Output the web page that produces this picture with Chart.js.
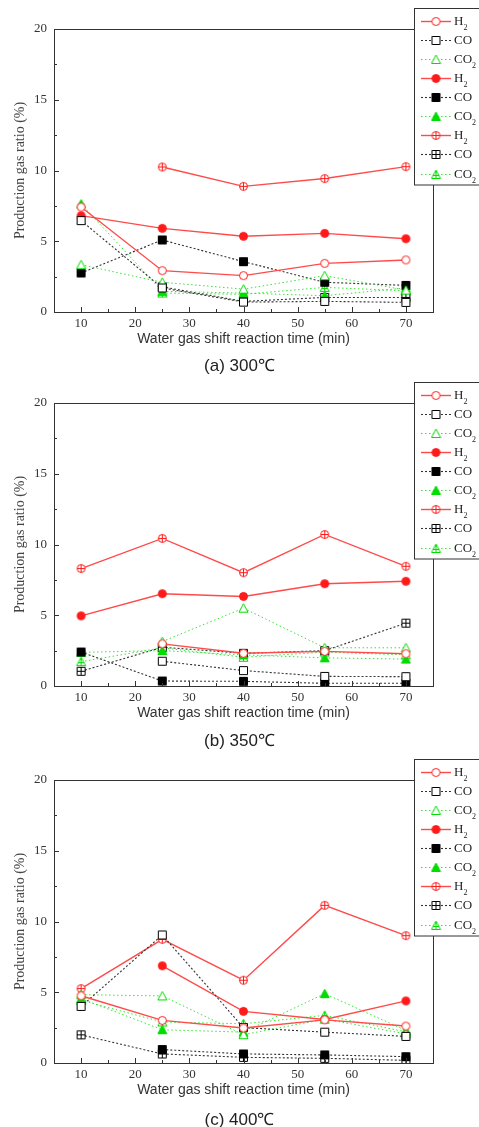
<!DOCTYPE html>
<html>
<head>
<meta charset="utf-8">
<script src="https://cdn.jsdelivr.net/npm/chart.js@4.4.1/dist/chart.umd.min.js"></script>
<style>
  body { margin: 0; background: #fff; width: 479px; height: 1127px; position: relative; overflow: hidden; }
  canvas { position: absolute; left: 0; }
  .cap { position: absolute; left: 0; width: 479px; height: 20px; line-height: 20px; text-align: center;
         font: 17px "Liberation Sans", Arial, sans-serif; color: #222; }
</style>
</head>
<body>
<canvas id="chart300" width="479" height="375" style="top:0px"></canvas>
<div class="cap" style="top:353px">(a) 300℃</div>
<canvas id="chart350" width="479" height="375" style="top:374px"></canvas>
<div class="cap" style="top:728px">(b) 350℃</div>
<canvas id="chart400" width="479" height="375" style="top:751px"></canvas>
<div class="cap" style="top:1107px">(c) 400℃</div>

<script>
// reaction time (min)
const times = [10, 25, 40, 55, 70];
const xTickLabels = [10, 20, 30, 40, 50, 60, 70];
const yTickLabels = [0, 5, 10, 15, 20];
const legendNames = ['H', 'CO', 'CO', 'H', 'CO', 'CO', 'H', 'CO', 'CO'];
const legendSubs  = ['2', '', '2', '2', '', '2', '2', '', '2'];

// (a) 300℃
const h2Open300    = [7.42, 2.92, 2.57, 3.44, 3.68];
const coOpen300    = [6.46, 1.70, 0.70, 0.75, 0.68];
const co2Open300   = [3.34, 2.10, 1.62, 2.57, 1.55];
const h2Fill300    = [6.81, 5.91, 5.35, 5.56, 5.18];
const coFill300    = [2.76, 5.09, 3.56, 2.10, 1.88];
const co2Fill300   = [7.64, 1.46, 1.34, 1.15, 1.70];
const h2Cross300   = [null, 10.25, 8.88, 9.43, 10.27];
const coCross300   = [null, 1.78, 0.75, 1.03, 1.03];
const co2Cross300  = [null, 1.34, 1.25, 1.74, 1.50];

// (b) 350℃
const h2Open350    = [null, 2.98, 2.31, 2.45, 2.28];
const coOpen350    = [null, 1.75, 1.09, 0.68, 0.66];
const co2Open350   = [null, 3.14, 5.50, 2.70, 2.70];
const h2Fill350    = [4.96, 6.52, 6.33, 7.23, 7.40];
const coFill350    = [2.40, 0.35, 0.33, 0.19, 0.19];
const co2Fill350   = [2.38, 2.50, 2.20, 1.99, 1.90];
const h2Cross350   = [8.30, 10.43, 8.01, 10.71, 8.46];
const coCross350   = [1.04, 2.74, 2.31, 2.50, 4.44];
const co2Cross350  = [1.72, 2.70, 2.03, 2.40, 2.20];

// (c) 400℃
const h2Open400    = [4.75, 3.01, 2.47, 3.05, 2.61];
const coOpen400    = [4.00, 9.05, 2.50, 2.18, 1.88];
const co2Open400   = [4.83, 4.74, 2.00, 3.10, 2.06];
const h2Fill400    = [null, 6.87, 3.65, 3.08, 4.39];
const coFill400    = [null, 0.95, 0.64, 0.57, 0.45];
const co2Fill400   = [4.55, 2.35, 2.18, 4.90, 2.30];
const h2Cross400   = [5.26, 8.74, 5.85, 11.14, 9.00];
const coCross400   = [1.99, 0.64, 0.40, 0.33, 0.19];
const co2Cross400  = [4.43, 2.90, 2.77, 3.37, 2.20];

const RED = '#ff1a1a', BLACK = '#000', GREEN = '#00dd00';

// small marker images, open / filled / crossed
function makeMarker(shape, color, filled, crossed) {
    const c = document.createElement('canvas');
    c.width = 11; c.height = 11;
    const g = c.getContext('2d');
    g.lineWidth = 1;
    g.strokeStyle = color;
    g.fillStyle = filled ? color : '#fff';
    g.beginPath();
    if (shape === 'circle') {
        g.arc(5.5, 5.5, 4, 0, Math.PI * 2);
    } else if (shape === 'square') {
        g.rect(1.5, 1.5, 8, 8);
    } else {
        g.moveTo(5.5, 1);
        g.lineTo(10, 9.5);
        g.lineTo(1, 9.5);
        g.closePath();
    }
    g.fill();
    g.stroke();
    if (crossed) {
        g.beginPath();
        if (shape === 'triangle') {
            g.moveTo(5.5, 1); g.lineTo(5.5, 10);
            g.moveTo(2.5, 6.5); g.lineTo(8.5, 6.5);
        } else {
            g.moveTo(5.5, 1.5); g.lineTo(5.5, 9.5);
            g.moveTo(1.5, 5.5); g.lineTo(9.5, 5.5);
        }
        g.stroke();
    }
    return c;
}

const h2Line  = { color: '#ff4a4a', width: 1.4, dash: [] };
const coLine  = { color: '#333', width: 1.1, dash: [2, 2] };
const co2Line = { color: '#33e633', width: 1, dash: [1.5, 2.5] };

const seriesStyles = [
    { line: h2Line,  marker: makeMarker('circle', RED, false, false) },
    { line: coLine,  marker: makeMarker('square', BLACK, false, false) },
    { line: co2Line, marker: makeMarker('triangle', GREEN, false, false) },
    { line: h2Line,  marker: makeMarker('circle', RED, true, false) },
    { line: coLine,  marker: makeMarker('square', BLACK, true, false) },
    { line: co2Line, marker: makeMarker('triangle', GREEN, true, false) },
    { line: h2Line,  marker: makeMarker('circle', RED, false, true) },
    { line: coLine,  marker: makeMarker('square', BLACK, false, true) },
    { line: co2Line, marker: makeMarker('triangle', GREEN, false, true) }
];

// frame, inward ticks and the boxed legend
const framePlugin = {
    id: 'frame',
    afterDraw(chart) {
        const ctx = chart.ctx;
        const a = chart.chartArea;
        const xs = chart.scales.x, ys = chart.scales.y;
        ctx.save();
        ctx.strokeStyle = '#333';
        ctx.lineWidth = 1;
        ctx.strokeRect(Math.round(a.left) + 0.5, Math.round(a.top) + 0.5,
                       Math.round(a.right - a.left), Math.round(a.bottom - a.top));
        ctx.beginPath();
        for (let v = 10; v <= 70; v += 5) {
            const px = Math.round(xs.getPixelForValue(v)) + 0.5;
            const len = v % 10 === 0 ? 5 : 3;
            ctx.moveTo(px, a.bottom);
            ctx.lineTo(px, a.bottom - len);
        }
        for (let v = 2.5; v < 20; v += 2.5) {
            const py = Math.round(ys.getPixelForValue(v)) + 0.5;
            const len = v % 5 === 0 ? 5 : 3;
            ctx.moveTo(a.left, py);
            ctx.lineTo(a.left + len, py);
        }
        ctx.stroke();

        // legend
        const bx = 414.5, by = 8.5, bh = 176.5;
        ctx.fillStyle = '#fff';
        ctx.fillRect(bx, by, 80, bh);
        ctx.strokeStyle = '#333';
        ctx.strokeRect(bx, by, 80, bh);
        chart.data.datasets.forEach((ds, i) => {
            const y = Math.round(20.7 + i * 19.1);
            const st = seriesStyles[i];
            ctx.beginPath();
            ctx.strokeStyle = st.line.color;
            ctx.lineWidth = st.line.width;
            ctx.setLineDash(st.line.dash);
            ctx.moveTo(421, y + 0.5);
            ctx.lineTo(451, y + 0.5);
            ctx.stroke();
            ctx.setLineDash([]);
            ctx.drawImage(st.marker, 436 - 5.5, y - 5);
            ctx.fillStyle = '#222';
            ctx.textBaseline = 'middle';
            ctx.font = '13px "Liberation Serif", "Times New Roman", serif';
            ctx.fillText(legendNames[i], 454, y + 1);
            if (legendSubs[i]) {
                const w = ctx.measureText(legendNames[i]).width;
                ctx.font = '8px "Liberation Serif", serif';
                ctx.fillText(legendSubs[i], 454 + w, y + 7);
            }
        });
        ctx.restore();
    }
};

function buildChart(id, values) {
    const datasets = values.map((vals, i) => ({
        label: legendNames[i] + (legendSubs[i] ? '₂' : ''),
        data: times.map((t, k) => ({ x: t, y: vals[k] })),
        borderColor: seriesStyles[i].line.color,
        borderWidth: seriesStyles[i].line.width,
        borderDash: seriesStyles[i].line.dash,
        pointStyle: seriesStyles[i].marker,
        pointRadius: 4,
        tension: 0,
        fill: false
    }));
    new Chart(document.getElementById(id).getContext('2d'), {
        type: 'line',
        data: { datasets: datasets },
        options: {
            responsive: false,
            animation: false,
            devicePixelRatio: 1,
            layout: { padding: { top: 29, right: 46, bottom: 27, left: 0 } },
            plugins: { legend: { display: false }, tooltip: { enabled: false } },
            scales: {
                x: {
                    type: 'linear',
                    min: 5,
                    max: 75,
                    afterFit: s => { s.height = 36; },
                    grid: { display: false, drawTicks: false },
                    border: { display: false },
                    ticks: {
                        stepSize: 5,
                        padding: 4,
                        color: '#333',
                        font: { family: '"Liberation Serif", "Times New Roman", serif', size: 13 },
                        callback: v => xTickLabels.includes(v) ? String(v) : ''
                    },
                    title: {
                        display: true,
                        text: 'Water gas shift reaction time (min)',
                        color: '#333',
                        padding: 0,
                        font: { family: '"Liberation Sans", Arial, sans-serif', size: 14 }
                    }
                },
                y: {
                    min: 0,
                    max: 20,
                    afterFit: s => { s.width = 54; },
                    grid: { display: false, drawTicks: false },
                    border: { display: false },
                    ticks: {
                        stepSize: 5,
                        padding: 7,
                        color: '#333',
                        font: { family: '"Liberation Serif", "Times New Roman", serif', size: 13 },
                        callback: v => yTickLabels.includes(v) ? String(v) : ''
                    },
                    title: {
                        display: true,
                        text: 'Production gas ratio (%)',
                        color: '#444',
                        padding: { top: 12, bottom: 0 },
                        font: { family: '"Liberation Serif", "Times New Roman", serif', size: 14 }
                    }
                }
            }
        },
        plugins: [framePlugin]
    });
}

buildChart('chart300', [h2Open300, coOpen300, co2Open300, h2Fill300, coFill300, co2Fill300, h2Cross300, coCross300, co2Cross300]);
buildChart('chart350', [h2Open350, coOpen350, co2Open350, h2Fill350, coFill350, co2Fill350, h2Cross350, coCross350, co2Cross350]);
buildChart('chart400', [h2Open400, coOpen400, co2Open400, h2Fill400, coFill400, co2Fill400, h2Cross400, coCross400, co2Cross400]);
</script>
</body>
</html>
